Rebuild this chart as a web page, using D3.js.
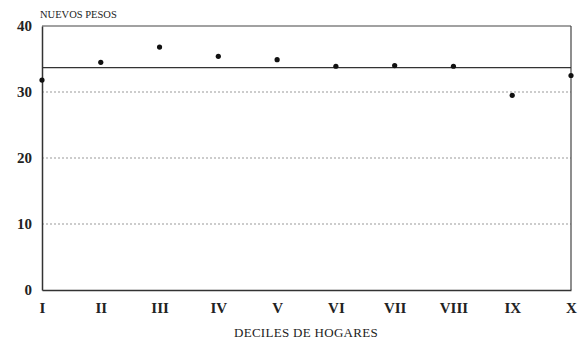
<!DOCTYPE html>
<html><head><meta charset="utf-8">
<script src="https://cdn.jsdelivr.net/npm/d3@7"></script>
<style>body{margin:0;background:#fff}svg{display:block}</style>
</head><body>
<svg id="c" width="586" height="344"></svg>
<script>
const categories = ["I","II","III","IV","V","VI","VII","VIII","IX","X"];
const values = [31.8, 34.5, 36.8, 35.4, 34.9, 33.9, 34.0, 33.9, 29.5, 32.5];
const average = [33.7];
const yTicks = [0, 10, 20, 30, 40];
const yTitle = "NUEVOS PESOS";
const xTitle = "DECILES DE HOGARES";

const svg = d3.select("#c");
const L = 42, R = 571, T = 26, B = 290;
const x = d3.scalePoint().domain(categories).range([L, R]);
const y = d3.scaleLinear().domain([0, 40]).range([B, T]);
const font = "'Liberation Serif', 'DejaVu Serif', serif";

// gridlines
svg.append("g").selectAll("line").data([10,20,30]).join("line")
  .attr("x1", L).attr("x2", R).attr("y1", d => y(d)).attr("y2", d => y(d))
  .attr("stroke", "#999").attr("stroke-width", 1).attr("stroke-dasharray", "2,2");

// frame
svg.append("line").attr("x1", L).attr("x2", R).attr("y1", y(40)).attr("y2", y(40)).attr("stroke", "#444").attr("stroke-width", 1.2);
svg.append("line").attr("x1", R).attr("x2", R).attr("y1", y(40)).attr("y2", y(0)).attr("stroke", "#444").attr("stroke-width", 1.2);

// axes
const ya = svg.append("g").attr("transform", `translate(${L},0)`)
  .call(d3.axisLeft(y).tickValues(yTicks).tickSize(0).tickPadding(10));
ya.select(".domain").attr("stroke", "#333").attr("stroke-width", 1.5);
ya.selectAll("text").attr("font-family", font).attr("font-size", 15).attr("font-weight", "bold").attr("fill", "#222");

const xa = svg.append("g").attr("transform", `translate(0,${B})`)
  .call(d3.axisBottom(x).tickSize(0).tickPadding(12));
xa.select(".domain").attr("stroke", "#333").attr("stroke-width", 1.5);
xa.selectAll("text").attr("font-family", font).attr("font-size", 15).attr("font-weight", "bold").attr("fill", "#222");

// average line
svg.append("line").attr("x1", L).attr("x2", R).attr("y1", y(average[0])).attr("y2", y(average[0]))
  .attr("stroke", "#333").attr("stroke-width", 1.3);

// points
svg.append("g").selectAll("circle").data(values).join("circle")
  .attr("cx", (d,i) => x(categories[i])).attr("cy", d => y(d)).attr("r", 2.6).attr("fill", "#111");

// titles
svg.append("text").attr("x", 40).attr("y", 18).attr("font-family", font).attr("font-size", 10.5)
  .attr("fill", "#222").text(yTitle);
svg.append("text").attr("x", 306).attr("y", 337).attr("text-anchor", "middle").attr("font-family", font)
  .attr("font-size", 13).attr("letter-spacing", 0.3).attr("fill", "#222").text(xTitle);
</script>
</body></html>
